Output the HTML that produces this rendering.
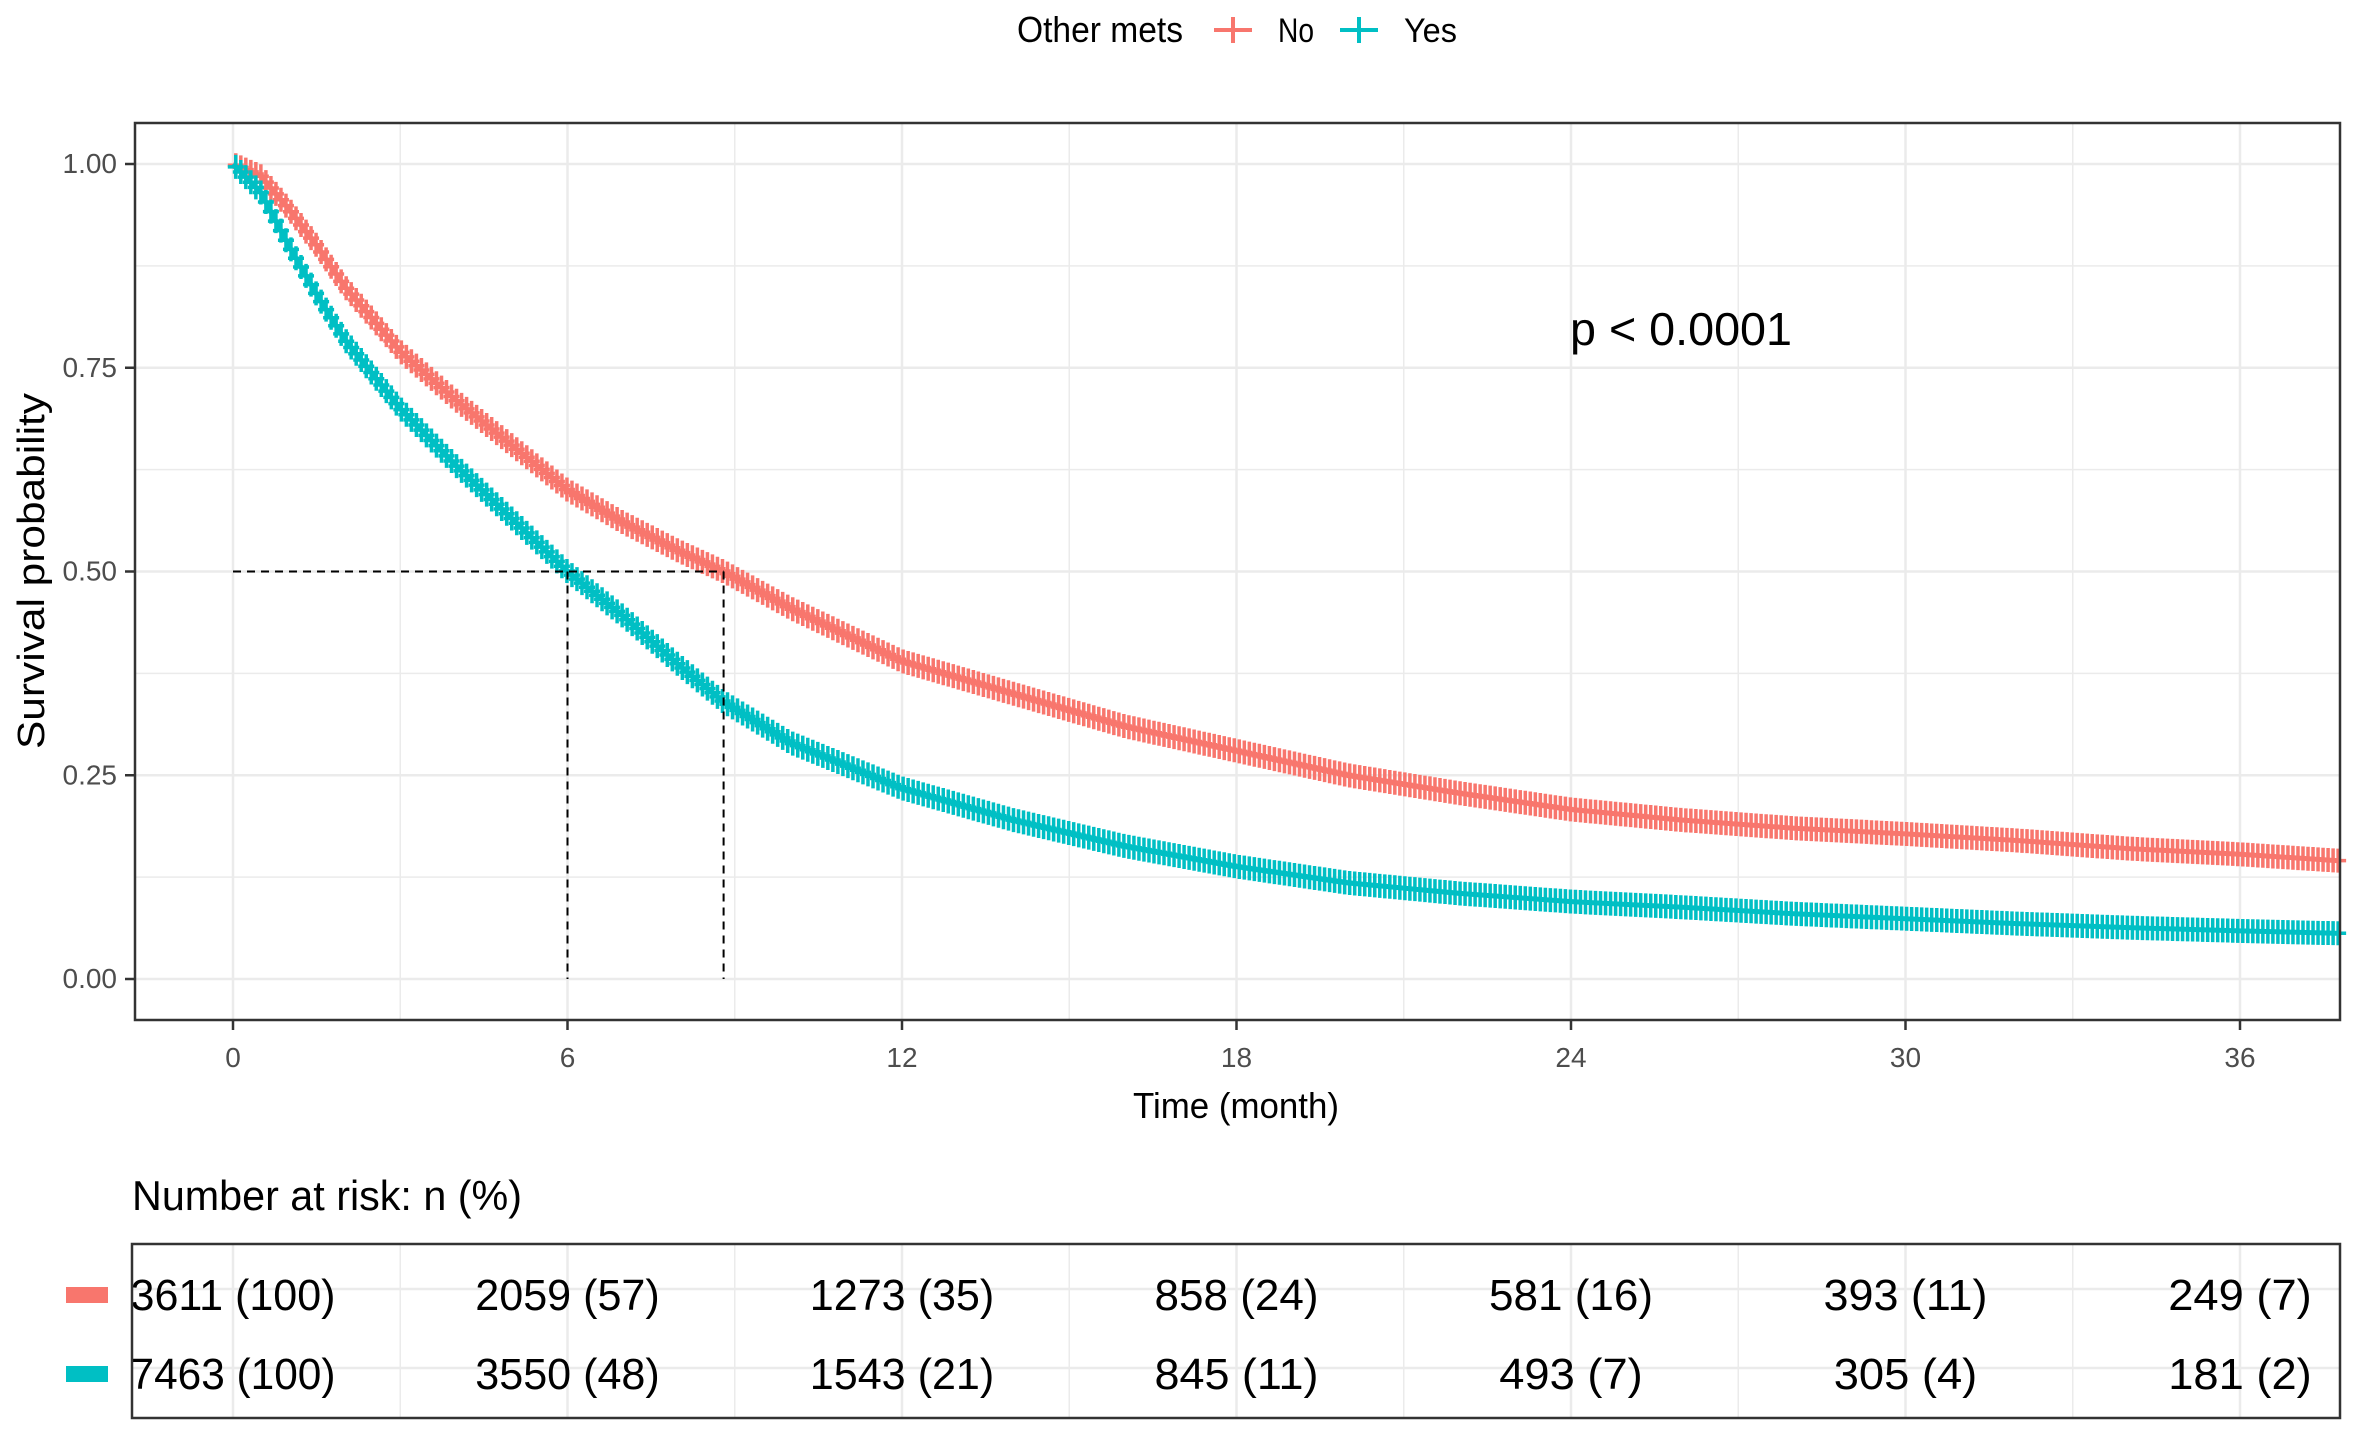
<!DOCTYPE html>
<html><head><meta charset="utf-8"><style>
html,body{margin:0;padding:0;background:#fff}
svg{display:block;font-family:"Liberation Sans",Arial,sans-serif}
</style></head><body>
<svg id="chart" width="2355" height="1439" viewBox="0 0 2355 1439" xmlns="http://www.w3.org/2000/svg">
<g id="grid"></g>
<g id="marks"></g>
<rect x="135" y="123" width="2205" height="897" fill="none" stroke="#333" stroke-width="2.5"/>
<g id="axes"></g>
<text x="44" y="571" transform="rotate(-90 44 571)" text-anchor="middle" font-size="38" textLength="356" lengthAdjust="spacingAndGlyphs" fill="#000">Survival probability</text>
<text x="1236" y="1118" text-anchor="middle" font-size="36" textLength="206" lengthAdjust="spacingAndGlyphs" fill="#000">Time (month)</text>
<text x="1570" y="345" font-size="46" textLength="222" lengthAdjust="spacingAndGlyphs" fill="#000">p &lt; 0.0001</text>
<g>
<text x="1017" y="42" font-size="36" textLength="166" lengthAdjust="spacingAndGlyphs" fill="#000">Other mets</text>
<g>
<line x1="1214" y1="30" x2="1252" y2="30" stroke="#F8766D" stroke-width="4"/><line x1="1233" y1="17" x2="1233" y2="43" stroke="#F8766D" stroke-width="4"/>
<text x="1278" y="42" font-size="34" textLength="36" lengthAdjust="spacingAndGlyphs" fill="#000">No</text></g>
<g>
<line x1="1340" y1="30" x2="1378" y2="30" stroke="#00BFC4" stroke-width="4"/><line x1="1359" y1="17" x2="1359" y2="43" stroke="#00BFC4" stroke-width="4"/>
<text x="1404" y="42" font-size="34" textLength="53" lengthAdjust="spacingAndGlyphs" fill="#000">Yes</text></g>
</g>
<text x="132" y="1210" font-size="42" textLength="390" lengthAdjust="spacingAndGlyphs" fill="#000">Number at risk: n (%)</text>
<g id="risk"></g>
<rect x="132" y="1244" width="2208" height="174" fill="none" stroke="#333" stroke-width="2.5"/>
<rect x="66" y="1287" width="42" height="16" fill="#F8766D"/>
<rect x="66" y="1366" width="42" height="16" fill="#00BFC4"/>
</svg>
<script>
const times=[0,0.5,1,1.5,2,3,4,5,6,7,8,8.8,10,12,14,16,18,20,22,24,26,28,30,32,34,36,37.8];
const survNo=[1,0.985,0.945,0.90,0.85,0.77,0.71,0.655,0.60,0.56,0.525,0.50,0.455,0.39,0.35,0.31,0.28,0.25,0.228,0.208,0.195,0.185,0.178,0.17,0.16,0.153,0.145];
const survYes=[1,0.965,0.90,0.84,0.785,0.70,0.63,0.565,0.50,0.445,0.385,0.34,0.29,0.234,0.195,0.163,0.138,0.118,0.105,0.095,0.088,0.08,0.074,0.068,0.063,0.059,0.056];
const xTicks=[0,6,12,18,24,30,36];
const yTicks=[0,0.25,0.5,0.75,1];
const yTickLabels=["0.00","0.25","0.50","0.75","1.00"];
const riskNo=["3611 (100)","2059 (57)","1273 (35)","858 (24)","581 (16)","393 (11)","249 (7)"];
const riskYes=["7463 (100)","3550 (48)","1543 (21)","845 (11)","493 (7)","305 (4)","181 (2)"];
const medianNo=8.8, medianYes=6;

const NS="http://www.w3.org/2000/svg";
const X=t=>233+t*(2240-233)/36;
const Y=v=>979-v*(979-164);
function mk(tag,attrs,parent){const e=document.createElementNS(NS,tag);for(const k in attrs)e.setAttribute(k,attrs[k]);parent.appendChild(e);return e;}
const grid=document.getElementById('grid'),marks=document.getElementById('marks'),axes=document.getElementById('axes'),risk=document.getElementById('risk');
for(let t=-3;t<=39;t+=3){const x=X(t);if(x<=135||x>=2340)continue;
 const l=mk('line',{x1:x,x2:x,y1:123,y2:1020,stroke:'#EBEBEB','stroke-width':t%6===0?2.5:1.5},grid);
 
 
 const l2=mk('line',{x1:x,x2:x,y1:1244,y2:1418,stroke:'#EBEBEB','stroke-width':t%6===0?2.5:1.5},risk);
 
 }
for(let v=0;v<=1.0001;v+=0.125){
 const l=mk('line',{x1:135,x2:2340,y1:Y(v),y2:Y(v),stroke:'#EBEBEB','stroke-width':Math.round(v*8)%2===0?2.5:1.5},grid);
 
 }
[1295,1374].forEach(y=>{const l=mk('line',{x1:132,x2:2340,y1:y-6,y2:y-6,stroke:'#EBEBEB','stroke-width':2.5},risk);
 
 });
xTicks.forEach(t=>{mk('line',{x1:X(t),x2:X(t),y1:1020,y2:1030,stroke:'#333','stroke-width':2.5},axes);
 const tx=mk('text',{x:X(t),y:1067,'text-anchor':'middle','font-size':28,fill:'#4D4D4D'},axes);tx.textContent=t;
 
 });
yTicks.forEach((v,i)=>{mk('line',{x1:125,x2:135,y1:Y(v),y2:Y(v),stroke:'#333','stroke-width':2.5},axes);
 const tx=mk('text',{x:117,y:Y(v)+9,'text-anchor':'end','font-size':28,fill:'#4D4D4D'},axes);tx.textContent=yTickLabels[i];
 
 });
function interp(s,t){for(let i=1;i<times.length;i++){if(t<=times[i]){const f=(t-times[i-1])/(times[i]-times[i-1]);return s[i-1]+f*(s[i]-s[i-1]);}}return s[s.length-1];}
function curve(s,color,name){
 const g=mk('g',{},marks);
 
 
 let d='';times.forEach((t,i)=>{d+=(i?'L':'M')+X(t)+','+Y(s[i]);});
 mk('path',{d:d,fill:'none',stroke:color,'stroke-width':5},g);
 let cd='';
 for(let t=0.05;t<=37.8;t+=0.09){const x=X(t),y=Y(interp(s,t));cd+=`M${x},${y-12}V${y+12}M${x-8},${y}H${x+8}`;}
 mk('path',{d:cd,fill:'none',stroke:color,'stroke-width':3.5},g);}
curve(survNo,'#F8766D','curve-no');
curve(survYes,'#00BFC4','curve-yes');
const med=mk('path',{d:`M${X(0)},${Y(0.5)}H${X(medianNo)}M${X(medianYes)},${Y(0.5)}V${Y(0)}M${X(medianNo)},${Y(0.5)}V${Y(0)}`,fill:'none',stroke:'#000','stroke-width':2,'stroke-dasharray':'8,6'},marks);


[[riskNo,1310],[riskYes,1389]].forEach(([arr,y])=>{arr.forEach((s,i)=>{
 const tx=mk('text',{x:X(xTicks[i]),y:y,'text-anchor':'middle','font-size':44,fill:'#000',textLength:s.length*20.5,lengthAdjust:'spacingAndGlyphs'},risk);tx.textContent=s;
 
 });});
</script>
</body></html>
